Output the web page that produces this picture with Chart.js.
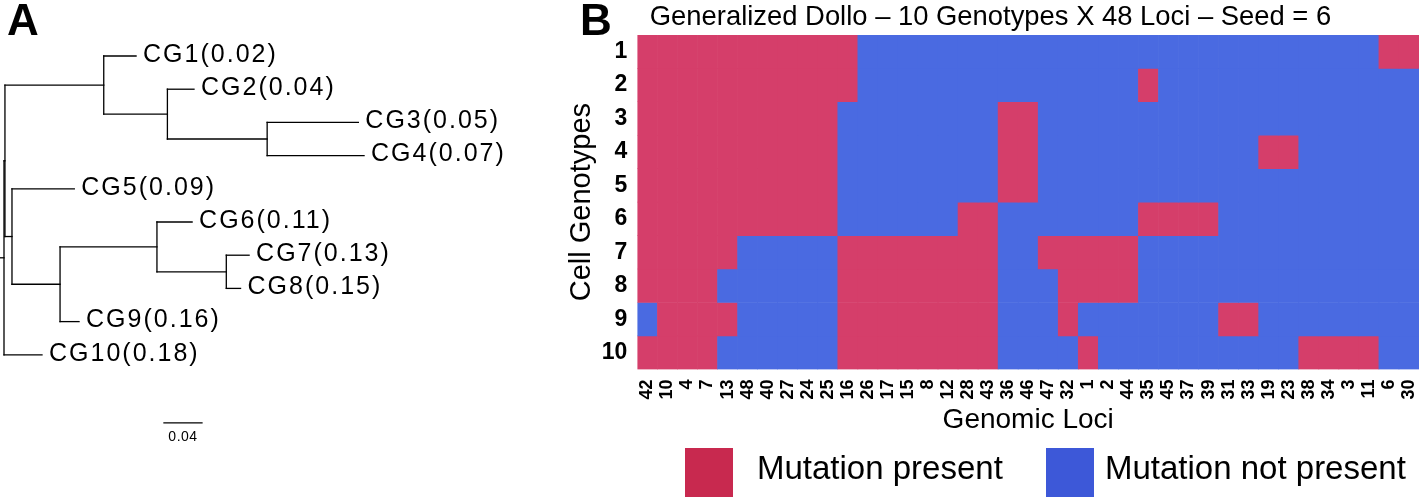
<!DOCTYPE html>
<html>
<head>
<meta charset="utf-8">
<script src="https://cdn.jsdelivr.net/npm/chart.js@4.4.1/dist/chart.umd.min.js"></script>
<style>
  html, body { margin: 0; padding: 0; background: #fff; }
  body { width: 1419px; height: 497px; overflow: hidden; position: relative; }
  #treeCanvas { position: absolute; left: 0; top: 0; }
  #heatCanvas { position: absolute; left: 560px; top: 0; }
  .panel { position: absolute; top: -5px; font: bold 44px 'Liberation Sans', Arial, sans-serif; color: #000; }
</style>
</head>
<body>
<canvas id="treeCanvas" width="560" height="497"></canvas>
<canvas id="heatCanvas" width="918" height="497"></canvas>
<div class="panel" style="left:7px">A</div>
<div class="panel" style="left:580px">B</div>
<script>
// ---- panel A: tree ----
const tipLabels = ['CG1(0.02)', 'CG2(0.04)', 'CG3(0.05)', 'CG4(0.07)', 'CG5(0.09)',
                   'CG6(0.11)', 'CG7(0.13)', 'CG8(0.15)', 'CG9(0.16)', 'CG10(0.18)'];
// distance of each tip from the root
const tipDepth = [0.139, 0.200, 0.373, 0.379, 0.074, 0.198, 0.258, 0.249, 0.079, 0.040];
// internal nodes: [child, child, depth] -- tips are 0..9, these are 10..18
const innerNodes = [
  [2, 3, 0.277],
  [1, 10, 0.172],
  [0, 11, 0.105],
  [6, 7, 0.234],
  [5, 13, 0.161],
  [14, 8, 0.059],
  [4, 15, 0.0084],
  [12, 16, 0.001],
  [17, 9, 0]
];
const rootStub = 0.004;
const scaleBarLen = 0.04;
const scaleBarLabel = '0.04';

// ---- panel B: heatmap ----
const loci = ['42', '10', '4', '7', '13', '48', '40', '27', '24', '25', '16', '26', '17', '15', '8',
              '12', '28', '43', '36', '46', '47', '32', '1', '2', '44', '35', '45', '37', '39', '31',
              '33', '19', '23', '38', '34', '3', '11', '6', '30'];
const genotypes = ['1', '2', '3', '4', '5', '6', '7', '8', '9', '10'];
// 1 = mutation present, one string per genotype, one char per locus
const mutationRows = [
  '1111111111 1000000000 0000000000 000000011',
  '1111111111 1000000000 0000010000 000000000',
  '1111111111 0000000011 0000000000 000000000',
  '1111111111 0000000011 0000000000 011000000',
  '1111111111 0000000011 0000000000 000000000',
  '1111111111 0000001100 0000011110 000000000',
  '1111100000 1111111100 1111100000 000000000',
  '1111000000 1111111100 0111100000 000000000',
  '0111100000 1111111100 0100000001 100000000',
  '1111000000 1111111100 0010000000 000111100'
].map(s => s.replace(/ /g, ''));
const legendNames = ['Mutation present', 'Mutation not present'];

const presentColor = '#D53E6A';
const absentColor = '#4A6AE1';
const legendColors = ['#C8294F', '#3D58D8'];

Chart.defaults.font.family = "'Liberation Sans', Arial, sans-serif";
Chart.defaults.color = '#000';

// tree layout
const nodeX = tipDepth.slice();
const nodeY = tipDepth.map((d, i) => i + 1);
innerNodes.forEach(([a, b, d]) => {
  nodeX.push(d);
  nodeY.push((nodeY[a] + nodeY[b]) / 2);
});

const segments = [];
innerNodes.forEach(([a, b, d]) => {
  segments.push([{ x: d, y: nodeY[a] }, { x: d, y: nodeY[b] }]);
  [a, b].forEach(c => segments.push([{ x: d, y: nodeY[c] }, { x: nodeX[c], y: nodeY[c] }]));
});
const rootIdx = nodeX.length - 1;
segments.push([{ x: -rootStub, y: nodeY[rootIdx] }, { x: 0, y: nodeY[rootIdx] }]);
const barStart = 0.1684, barY = 12.05;
segments.push([{ x: barStart, y: barY }, { x: barStart + scaleBarLen, y: barY }]);

const treeLabels = {
  id: 'treeLabels',
  afterDatasetsDraw(chart) {
    const { ctx, scales: { x, y } } = chart;
    ctx.save();
    ctx.fillStyle = '#000';
    ctx.textBaseline = 'middle';
    ctx.font = "25px 'Liberation Sans', Arial, sans-serif";
    ctx.letterSpacing = '2px';
    tipLabels.forEach((t, i) => {
      ctx.fillText(t, x.getPixelForValue(tipDepth[i]) + 7, y.getPixelForValue(i + 1) - 1);
    });
    ctx.letterSpacing = '0.5px';
    ctx.font = "14px 'Liberation Sans', Arial, sans-serif";
    ctx.textAlign = 'center';
    ctx.fillText(scaleBarLabel, x.getPixelForValue(barStart + scaleBarLen / 2), y.getPixelForValue(barY) + 14);
    ctx.restore();
  }
};

new Chart(document.getElementById('treeCanvas'), {
  type: 'scatter',
  data: {
    datasets: segments.map(s => ({
      data: s,
      showLine: true,
      borderColor: '#000',
      borderWidth: 1.3,
      pointRadius: 0,
      borderCapStyle: 'square'
    }))
  },
  options: {
    responsive: false,
    animation: false,
    layout: { padding: 0 },
    plugins: { legend: { display: false }, tooltip: { enabled: false } },
    scales: {
      x: { type: 'linear', display: false, min: -0.00421, max: 0.58526 },
      y: { type: 'linear', display: false, reverse: true, min: -0.687, max: 14.283 }
    }
  },
  plugins: [treeLabels]
});

// heatmap legend drawn under the axis title
const heatLegend = {
  id: 'heatLegend',
  afterDraw(chart) {
    const ctx = chart.ctx;
    const boxX = [125, 486];
    const textX = [197, 545];
    ctx.save();
    ctx.font = "33px 'Liberation Sans', Arial, sans-serif";
    ctx.textBaseline = 'middle';
    legendNames.forEach((name, i) => {
      ctx.fillStyle = legendColors[i];
      ctx.fillRect(boxX[i], 448, 48, 49);
      ctx.fillStyle = '#000';
      ctx.fillText(name, textX[i], 470);
    });
    ctx.restore();
  }
};

new Chart(document.getElementById('heatCanvas'), {
  type: 'bar',
  data: {
    labels: loci,
    datasets: genotypes.map((g, r) => ({
      label: 'Genotype ' + g,
      data: loci.map(() => [r + 0.5, r + 1.5]),
      backgroundColor: mutationRows[r].split('').map(c => c === '1' ? presentColor : absentColor),
      borderWidth: 0,
      grouped: false,
      categoryPercentage: 1,
      barPercentage: 1
    }))
  },
  options: {
    responsive: false,
    animation: false,
    layout: { padding: { left: 2, right: 59, top: 1, bottom: 60 } },
    plugins: {
      legend: { display: false },
      tooltip: { enabled: false },
      title: {
        display: true,
        text: 'Generalized Dollo – 10 Genotypes X 48 Loci – Seed = 6',
        font: { size: 27.4, weight: 'normal' },
        color: '#000',
        padding: { top: 0, bottom: 1 }
      }
    },
    scales: {
      x: {
        type: 'category',
        grid: { display: false },
        border: { display: false },
        ticks: { autoSkip: false, minRotation: 90, maxRotation: 90, padding: 2, font: { size: 18, weight: 'bold' } },
        title: { display: true, text: 'Genomic Loci', font: { size: 28 }, padding: { top: 2, bottom: 0 } }
      },
      y: {
        type: 'linear',
        reverse: true,
        min: 0.5,
        max: 10.5,
        grid: { display: false },
        border: { display: false },
        afterBuildTicks: axis => { axis.ticks = genotypes.map((g, i) => ({ value: i + 1 })); },
        ticks: { padding: 2, font: { size: 23, weight: 'bold' }, callback: v => genotypes[v - 1] },
        title: { display: true, text: 'Cell Genotypes', font: { size: 29 }, padding: { top: 3, bottom: 0 } }
      }
    }
  },
  plugins: [heatLegend]
});
</script>
</body>
</html>
